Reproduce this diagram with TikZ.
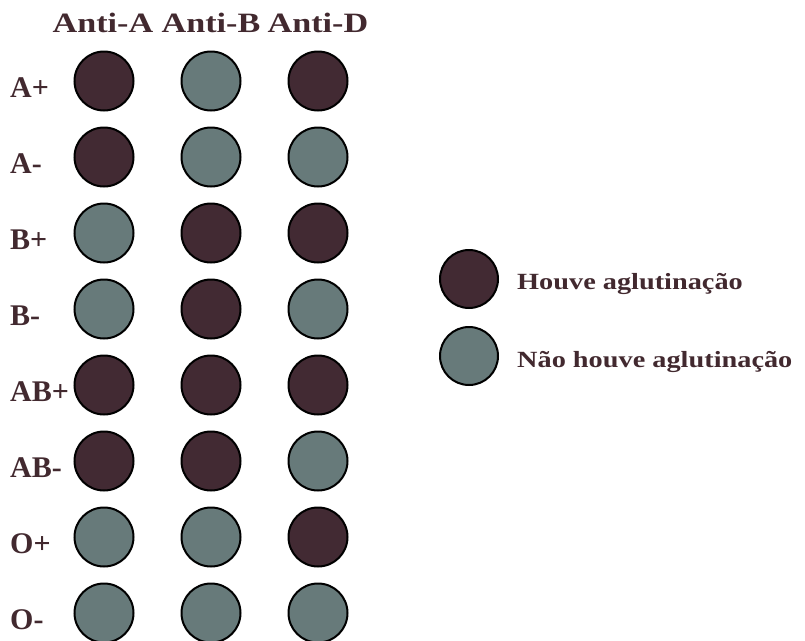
\documentclass[tikz,border=0pt]{standalone}
\usepackage{fontspec}
\setmainfont{Liberation Serif}
\newfontfamily\labfont{Liberation Serif}[FakeStretch=1.0]
\newfontfamily\txtfont{Liberation Serif}[FakeStretch=1.22]
\definecolor{agl}{HTML}{422A33}
\definecolor{nagl}{HTML}{677A7A}
\definecolor{txtc}{HTML}{42292F}
\tikzset{
  dot/.style={circle, draw=black, line width=2pt, minimum size=59pt, inner sep=0pt},
  yes/.style={dot, fill=agl},
  no/.style={dot, fill=nagl},
  head/.style={anchor=base, inner sep=0pt, text=txtc, font=\txtfont\bfseries\fontsize{28}{30}\selectfont},
  rowlab/.style={anchor=base west, inner sep=0pt, text=txtc, font=\labfont\bfseries\fontsize{30}{32}\selectfont},
  legtext/.style={anchor=base west, inner sep=0pt, text=txtc, font=\txtfont\bfseries\fontsize{23.2}{25}\selectfont}
}
\begin{document}
\begin{tikzpicture}[x=1pt, y=-1pt]
\useasboundingbox (0,0) rectangle (805,640);
% headers
\node[head] (hA) at (103,32) {Anti-A};
\node[head] (hB) at (211,32) {Anti-B};
\node[head] (hD) at (318,32) {Anti-D};
% rows
\foreach \lab/\y/\a/\b/\d/\n in {A+/81/yes/no/yes/1, A-/157/yes/no/no/2, B+/233/no/yes/yes/3, B-/309/no/yes/no/4, AB+/385/yes/yes/yes/5, AB-/461/yes/yes/no/6, O+/537/no/no/yes/7, O-/613/no/no/no/8}{
  \node[rowlab] (r\n) at (10,\y+16) {\lab};
  \node[\a] (c\n a) at (104,\y) {};
  \node[\b] (c\n b) at (211,\y) {};
  \node[\d] (c\n d) at (318,\y) {};
}
% legend
\node[yes, minimum size=58pt] (ly) at (469,279) {};
\node[legtext] (ty) at (517,289) {Houve aglutinação};
\node[no, minimum size=58pt] (ln) at (469,356) {};
\node[legtext] (tn) at (517,367) {Não houve aglutinação};
\end{tikzpicture}
\end{document}
